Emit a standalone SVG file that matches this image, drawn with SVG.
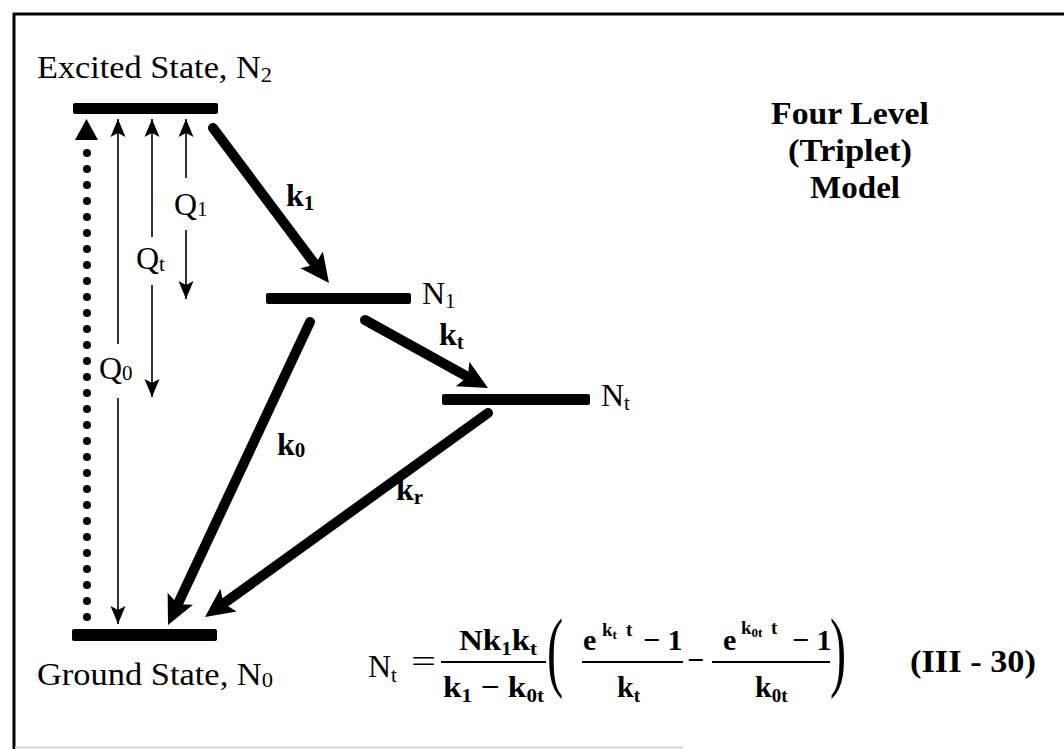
<svg xmlns="http://www.w3.org/2000/svg" width="1064" height="749" viewBox="0 0 1064 749">
<style>
.t{font-family:"Liberation Serif","Times New Roman",serif;fill:#000;font-size:32px}
.f{font-size:30px}
.b{font-weight:bold}
.s{font-size:21px}
.sf{font-size:19px}
.sup{font-size:19px}
.ss{font-size:13px}
.bar{fill:#000}
.thick{stroke:#000;stroke-width:10;stroke-linecap:round;fill:none}
.thin{stroke:#000;stroke-width:1.6;fill:none}
.fb{stroke:#000;stroke-width:2.2}
</style>
<defs>
<marker id="hb" markerUnits="userSpaceOnUse" viewBox="-12 -16 36 32" markerWidth="36" markerHeight="32" refX="0" refY="0" orient="auto" overflow="visible">
<path d="M20,0 L-9,-14 L-3,0 L-9,14 Z" fill="#000"/>
</marker>
<marker id="hs" markerUnits="userSpaceOnUse" viewBox="-20 -10 22 20" markerWidth="22" markerHeight="20" refX="0" refY="0" orient="auto" overflow="visible">
<path d="M0,0 L-18,-7.5 L-14,0 L-18,7.5 Z" fill="#000"/>
</marker>
</defs>
<rect width="1064" height="749" fill="#fff"/>
<g id="frame">
<line x1="13" y1="14" x2="1064" y2="14" stroke="#000" stroke-width="3"/>
<line x1="14" y1="13" x2="14" y2="749" stroke="#000" stroke-width="3"/>
<line x1="15" y1="747.5" x2="683" y2="747.5" stroke="#d9d9d9" stroke-width="2"/>
</g>
<g id="n2">
<rect class="bar" x="73" y="103" width="145" height="11" rx="2"/>
<text class="t" x="37" y="78" textLength="235" lengthAdjust="spacingAndGlyphs">Excited State, N<tspan class="s" dy="4">2</tspan></text>
</g>
<g id="n1">
<rect class="bar" x="266" y="293" width="145" height="11" rx="2"/>
<text class="t" x="422" y="304">N<tspan class="s" dy="4">1</tspan></text>
</g>
<g id="nt">
<rect class="bar" x="442" y="394" width="148" height="11" rx="2"/>
<text class="t" x="601" y="406">N<tspan class="s" dy="4">t</tspan></text>
</g>
<g id="n0">
<rect class="bar" x="72" y="629" width="145" height="12" rx="2"/>
<text class="t" x="37" y="685" textLength="236" lengthAdjust="spacingAndGlyphs">Ground State, N<tspan class="s" dy="2">0</tspan></text>
</g>
<g id="title">
<text class="t b" x="850" y="124" text-anchor="middle" textLength="158" lengthAdjust="spacingAndGlyphs">Four Level</text>
<text class="t b" x="850" y="161" text-anchor="middle" textLength="124" lengthAdjust="spacingAndGlyphs">(Triplet)</text>
<text class="t b" x="855" y="198" text-anchor="middle" textLength="90" lengthAdjust="spacingAndGlyphs">Model</text>
</g>
<g id="connectors">
<line x1="87" y1="153" x2="87" y2="618" stroke="#000" stroke-width="8" stroke-linecap="round" stroke-dasharray="0 16"/>
<polygon points="86.5,119 75,140 98,140" fill="#000"/>
<line class="thin" x1="118" y1="344" x2="118" y2="119" marker-end="url(#hs)"/>
<line class="thin" x1="118" y1="398" x2="118" y2="624" marker-end="url(#hs)"/>
<line class="thin" x1="152" y1="237" x2="152" y2="119" marker-end="url(#hs)"/>
<line class="thin" x1="152" y1="285" x2="152" y2="397" marker-end="url(#hs)"/>
<line class="thin" x1="186" y1="178" x2="186" y2="119" marker-end="url(#hs)"/>
<line class="thin" x1="186" y1="230" x2="186" y2="299" marker-end="url(#hs)"/>
<line class="thick" x1="213" y1="128" x2="317" y2="267" marker-end="url(#hb)"/>
<line class="thick" x1="365" y1="320" x2="470.5" y2="378.3" marker-end="url(#hb)"/>
<line class="thick" x1="310" y1="322" x2="176.5" y2="606.9" marker-end="url(#hb)"/>
<line class="thick" x1="488" y1="413" x2="221.2" y2="605.3" marker-end="url(#hb)"/>
</g>
<g id="labels">
<text class="t" x="174" y="215">Q<tspan class="s" dy="1">1</tspan></text>
<text class="t" x="136" y="269">Q<tspan class="s" dy="2">t</tspan></text>
<text class="t" x="99" y="379">Q<tspan class="s" dy="1">0</tspan></text>
<text class="t b" x="286" y="206">k<tspan class="s" dy="4">1</tspan></text>
<text class="t b" x="439" y="345">k<tspan class="s" dy="4">t</tspan></text>
<text class="t b" x="277" y="455">k<tspan class="s" dy="2">0</tspan></text>
<text class="t b" x="396" y="500">k<tspan class="s" dy="4">r</tspan></text>
</g>
<g id="equation">
<text class="t" x="368" y="677">N<tspan class="s" dy="5">t</tspan></text>
<text class="t" x="411" y="672" textLength="25" lengthAdjust="spacingAndGlyphs">=</text>
<text class="t f b" x="459" y="650" textLength="78" lengthAdjust="spacingAndGlyphs">Nk<tspan class="sf" dy="5">1</tspan><tspan dy="-5">k</tspan><tspan class="sf" dy="5">t</tspan></text>
<line class="fb" x1="441" y1="662" x2="546" y2="662"/>
<text class="t f b" x="443" y="697" textLength="101" lengthAdjust="spacingAndGlyphs">k<tspan class="sf" dy="5">1</tspan><tspan dy="-5"> − k</tspan><tspan class="sf" dy="5">0t</tspan></text>
<text class="t" transform="translate(547,680) scale(0.55,1)" style="font-size:88px">(</text>
<text class="t f b" x="583" y="650">e</text>
<text class="t b sup" x="602" y="636">k<tspan class="ss" dy="3">t</tspan></text>
<text class="t b sup" x="626" y="636">t</text>
<text class="t f b" x="643" y="650">− 1</text>
<line class="fb" x1="582" y1="662" x2="683" y2="662"/>
<text class="t f b" x="617" y="697">k<tspan class="sf" dy="5">t</tspan></text>
<text class="t f b" x="687" y="670">−</text>
<text class="t f b" x="723" y="650">e</text>
<text class="t b sup" x="741" y="634">k<tspan class="ss" dy="3">0t</tspan></text>
<text class="t b sup" x="771" y="634">t</text>
<text class="t f b" x="792" y="650">− 1</text>
<line class="fb" x1="712" y1="662" x2="830" y2="662"/>
<text class="t f b" x="755" y="697">k<tspan class="sf" dy="5">0t</tspan></text>
<text class="t" transform="translate(830,680) scale(0.55,1)" style="font-size:88px">)</text>
<text class="t b" x="910" y="672" textLength="126" lengthAdjust="spacingAndGlyphs">(III - 30)</text>
</g>
</svg>
